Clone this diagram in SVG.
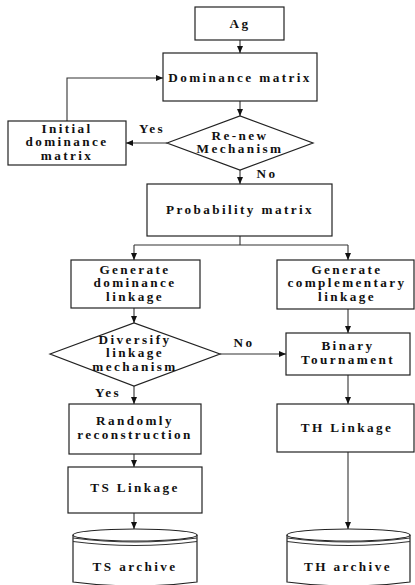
<svg xmlns="http://www.w3.org/2000/svg" width="415" height="585" viewBox="0 0 415 585">
<defs>
<marker id="ah" markerWidth="7" markerHeight="6" refX="7" refY="3" orient="auto" markerUnits="userSpaceOnUse">
<path d="M0,0 L7,3 L0,6 Z" fill="#111"/>
</marker>
<style>
.box{fill:#fff;stroke:#222;stroke-width:1.2}
.t{font-weight:bold;font-size:13.2px;letter-spacing:2.4px;text-anchor:middle;fill:#111}
.c{fill:none;stroke:#333;stroke-width:1.1}
.a{fill:none;stroke:#333;stroke-width:1.1;marker-end:url(#ah)}
</style>
</defs>
<rect width="415" height="585" fill="#fff"/>
<g font-family="Liberation Serif, Times New Roman, serif">
<g id="connectors">
<path class="a" d="M240,40 V53"/>
<path class="a" d="M240,101 V116"/>
<path class="a" d="M167,143 H126"/>
<path class="a" d="M67,121 V78 H163"/>
<path class="a" d="M240,170 V184"/>
<path class="c" d="M240,236 V245"/>
<path class="a" d="M134,245 H348 M134,245 V260"/>
<path class="a" d="M348,245 V260"/>
<path class="a" d="M134,308 V323"/>
<path class="a" d="M220,354 H286"/>
<path class="a" d="M348,309 V333"/>
<path class="a" d="M134,386 V404"/>
<path class="a" d="M348,375 V404"/>
<path class="a" d="M134,454 V467"/>
<path class="a" d="M134,513 V529"/>
<path class="a" d="M348,452 V529"/>
<text class="t" x="152" y="133">Yes</text>
<text class="t" x="267" y="178">No</text>
<text class="t" x="244" y="347">No</text>
<text class="t" x="108" y="397">Yes</text>
</g>
<g id="ag"><rect class="box" x="195" y="7" width="89" height="33"/><text class="t" x="240" y="28">Ag</text></g>
<g id="dominance-matrix"><rect class="box" x="163" y="53" width="154" height="48"/><text class="t" x="240" y="82">Dominance matrix</text></g>
<g id="renew"><path class="box" d="M167,143 L240,116 L313,143 L240,170 Z"/><text class="t" x="240" y="139.5">Re-new</text><text class="t" x="240" y="153">Mechanism</text></g>
<g id="initial"><rect class="box" x="8" y="121" width="118" height="44"/><text class="t" x="67" y="132.5">Initial</text><text class="t" x="67" y="146">dominance</text><text class="t" x="67" y="159.5">matrix</text></g>
<g id="probability"><rect class="box" x="147" y="184" width="185" height="52"/><text class="t" x="240" y="213.5">Probability matrix</text></g>
<g id="gen-dom"><rect class="box" x="71" y="260" width="129" height="48"/><text class="t" x="135" y="273.5">Generate</text><text class="t" x="135" y="287">dominance</text><text class="t" x="135" y="300.5">linkage</text></g>
<g id="gen-comp"><rect class="box" x="277" y="260" width="137" height="49"/><text class="t" x="347" y="273.5">Generate</text><text class="t" x="347" y="287">complementary</text><text class="t" x="347" y="300.5">linkage</text></g>
<g id="diversify"><path class="box" d="M50,354 L134,323 L220,354 L134,386 Z"/><text class="t" x="135" y="343.5">Diversify</text><text class="t" x="135" y="357">linkage</text><text class="t" x="135" y="370.5">mechanism</text></g>
<g id="binary"><rect class="box" x="286" y="333" width="124" height="42"/><text class="t" x="348" y="350">Binary</text><text class="t" x="348" y="363.5">Tournament</text></g>
<g id="random"><rect class="box" x="69" y="404" width="132" height="50"/><text class="t" x="135" y="425">Randomly</text><text class="t" x="135" y="439">reconstruction</text></g>
<g id="ts-linkage"><rect class="box" x="68" y="467" width="134" height="46"/><text class="t" x="135" y="492">TS Linkage</text></g>
<g id="th-linkage"><rect class="box" x="277" y="404" width="137" height="48"/><text class="t" x="347" y="432">TH Linkage</text></g>
<g id="ts-archive">
<path class="box" d="M73,535 V582 Q135,590 197,582 V535"/>
<ellipse class="box" cx="135" cy="535" rx="62" ry="6"/>
<path class="c" d="M73,538 Q135,546 197,538 M73,541.5 Q135,549.5 197,541.5"/>
<text class="t" x="135" y="571">TS archive</text>
</g>
<g id="th-archive">
<path class="box" d="M287,535 V582 Q348.5,590 410,582 V535"/>
<ellipse class="box" cx="348.5" cy="535" rx="61.5" ry="6"/>
<path class="c" d="M287,538 Q348.5,546 410,538 M287,541.5 Q348.5,549.5 410,541.5"/>
<text class="t" x="348" y="571">TH archive</text>
</g>
</g>
</svg>
